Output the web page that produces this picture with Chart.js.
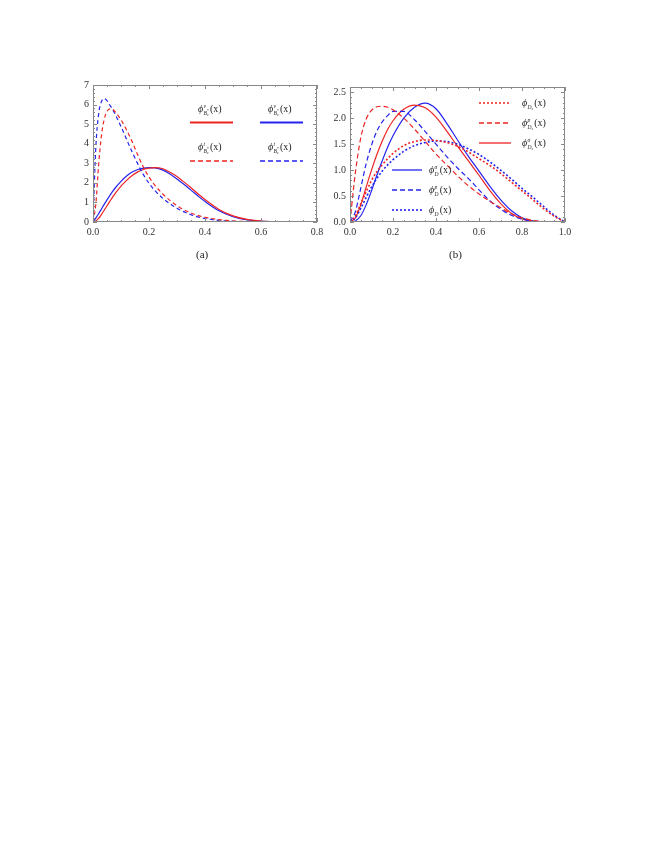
<!DOCTYPE html>
<html>
<head>
<meta charset="utf-8">
<script src="https://cdn.jsdelivr.net/npm/chart.js@4.4.1/dist/chart.umd.min.js"></script>
<style>
body { margin: 0; background: #fff; width: 664px; height: 860px; position: relative; overflow: hidden; }
canvas { position: absolute; }
.cap { position: absolute; font: 11px "Liberation Serif", "DejaVu Serif", serif; color: #222; }
</style>
</head>
<body>
<canvas id="chartA" width="270" height="175" style="left:60px;top:75px"></canvas>
<canvas id="chartB" width="255" height="175" style="left:325px;top:75px"></canvas>
<div class="cap" style="left:196px;top:248px">(a)</div>
<div class="cap" style="left:449px;top:248px">(b)</div>
<script>
// ---- panel (a) data ----
const xA = [0, 0.01, 0.02, 0.03, 0.04, 0.05, 0.06, 0.07, 0.08, 0.1, 0.12, 0.14, 0.16, 0.18, 0.2, 0.22, 0.25, 0.28, 0.3, 0.32, 0.35, 0.38, 0.4, 0.45, 0.5, 0.55, 0.6, 0.65, 0.7, 0.75, 0.8];
const vRedA  = [0, 0.05, 0.18, 0.38, 0.6, 0.83, 1.05, 1.27, 1.47, 1.83, 2.13, 2.38, 2.56, 2.68, 2.75, 2.78, 2.72, 2.5, 2.32, 2.1, 1.75, 1.38, 1.15, 0.64, 0.31, 0.13, 0.05, 0.016, 0.004, 0, 0];
const vBlueA = [0, 0.2, 0.42, 0.66, 0.9, 1.13, 1.35, 1.56, 1.75, 2.08, 2.35, 2.55, 2.68, 2.75, 2.78, 2.77, 2.65, 2.4, 2.2, 1.98, 1.63, 1.27, 1.05, 0.57, 0.27, 0.11, 0.04, 0.012, 0.003, 0, 0];
const tRedA  = [0, 0.9, 2.9, 4.4, 5.25, 5.65, 5.78, 5.76, 5.62, 5.22, 4.7, 4.1, 3.42, 2.8, 2.3, 1.9, 1.42, 1.04, 0.84, 0.66, 0.46, 0.31, 0.24, 0.12, 0.055, 0.022, 0.008, 0.002, 0, 0, 0];
const tBlueA = [0, 3.8, 5.5, 6.15, 6.3, 6.2, 5.98, 5.75, 5.48, 4.88, 4.22, 3.57, 2.97, 2.42, 1.98, 1.62, 1.2, 0.88, 0.7, 0.55, 0.37, 0.24, 0.18, 0.08, 0.03, 0.012, 0.004, 0, 0, 0, 0];
const xTicksA = [0, 0.2, 0.4, 0.6, 0.8];
const yTicksA = [0, 1, 2, 3, 4, 5, 6, 7];

// ---- panel (b) data ----
const xB = [0, 0.025, 0.05, 0.075, 0.1, 0.125, 0.15, 0.175, 0.2, 0.25, 0.3, 0.35, 0.4, 0.45, 0.5, 0.55, 0.6, 0.65, 0.7, 0.75, 0.8, 0.85, 0.9, 0.95, 1];
const pRedB  = [0, 0.95, 1.62, 1.98, 2.15, 2.22, 2.23, 2.21, 2.16, 2.0, 1.79, 1.55, 1.31, 1.1, 0.89, 0.7, 0.54, 0.4, 0.28, 0.16, 0.08, 0.03, 0.01, 0, 0];
const pBlueB = [0, 0.2, 0.65, 1.12, 1.48, 1.75, 1.93, 2.05, 2.13, 2.13, 1.97, 1.74, 1.5, 1.26, 1.04, 0.84, 0.62, 0.41, 0.25, 0.13, 0.055, 0.018, 0.004, 0, 0];
const sRedB  = [0, 0.08, 0.33, 0.67, 1.0, 1.3, 1.56, 1.78, 1.95, 2.17, 2.25, 2.2, 2.02, 1.75, 1.46, 1.18, 0.9, 0.61, 0.36, 0.17, 0.06, 0.015, 0.002, 0, 0];
const sBlueB = [0, 0.02, 0.12, 0.33, 0.6, 0.9, 1.18, 1.44, 1.66, 2.0, 2.21, 2.29, 2.18, 1.9, 1.58, 1.27, 0.98, 0.69, 0.43, 0.22, 0.08, 0.02, 0.003, 0, 0];
const dRedB  = [0, 0.12, 0.35, 0.58, 0.8, 0.97, 1.1, 1.22, 1.32, 1.47, 1.55, 1.58, 1.57, 1.53, 1.46, 1.35, 1.22, 1.09, 0.94, 0.77, 0.6, 0.43, 0.26, 0.11, 0];
const dBlueB = [0, 0.08, 0.26, 0.47, 0.67, 0.84, 0.98, 1.1, 1.2, 1.36, 1.47, 1.53, 1.56, 1.55, 1.5, 1.41, 1.3, 1.16, 1.0, 0.83, 0.65, 0.48, 0.3, 0.13, 0];
const xTicksB = [0, 0.2, 0.4, 0.6, 0.8, 1.0];
const yTicksB = [0, 0.5, 1.0, 1.5, 2.0, 2.5];

const RED = 'rgb(238,36,36)';
const BLUE = 'rgb(36,36,238)';
const SERIF = '"Liberation Serif", "DejaVu Serif", serif';

function pts(xs, ys) {
    return xs.map((x, i) => ({ x: x, y: ys[i] }));
}

function line(data, color, dash, width) {
    return {
        data: data,
        borderColor: color,
        borderWidth: width || 1.2,
        borderDash: dash || [],
        pointRadius: 0,
        fill: false,
        cubicInterpolationMode: 'monotone'
    };
}

// frame with inward ticks on all four sides (Mathematica look)
function makeFrame(xMinor, xEvery, yMinor, yEvery) {
    return {
        id: 'frame',
        afterDatasetsDraw(chart) {
            const { ctx, chartArea: a, scales: { x, y } } = chart;
            ctx.save();
            ctx.strokeStyle = '#888';
            ctx.lineWidth = 1;
            ctx.setLineDash([]);
            ctx.strokeRect(Math.round(a.left) + 0.5, Math.round(a.top) + 0.5,
                Math.round(a.right - a.left) - 1, Math.round(a.bottom - a.top) - 1);
            ctx.beginPath();
            const nx = Math.round((x.max - x.min) / xMinor);
            for (let i = 0; i <= nx; i++) {
                const len = i % xEvery === 0 ? 4 : 2;
                const px = Math.round(x.getPixelForValue(x.min + i * xMinor)) + 0.5;
                ctx.moveTo(px, a.bottom); ctx.lineTo(px, a.bottom - len);
                ctx.moveTo(px, a.top); ctx.lineTo(px, a.top + len);
            }
            const ny = Math.round((y.max - y.min) / yMinor);
            for (let i = 0; i <= ny; i++) {
                const len = i % yEvery === 0 ? 4 : 2;
                const py = Math.round(y.getPixelForValue(y.min + i * yMinor)) + 0.5;
                ctx.moveTo(a.left, py); ctx.lineTo(a.left + len, py);
                ctx.moveTo(a.right, py); ctx.lineTo(a.right - len, py);
            }
            ctx.stroke();
            ctx.restore();
        }
    };
}

// phi label with super/subscripts
function drawPhi(ctx, x, y, lab) {
    ctx.fillStyle = '#222';
    ctx.textBaseline = 'alphabetic';
    ctx.font = 'italic 10px ' + SERIF;
    ctx.fillText('ϕ', x, y);
    let cx = x + ctx.measureText('ϕ').width + 0.3;
    ctx.font = 'italic 5.5px ' + SERIF;
    let supW = 0;
    if (lab.sup) {
        ctx.fillText(lab.sup, cx, y - 4.5);
        supW = ctx.measureText(lab.sup).width;
    }
    ctx.fillText(lab.sub, cx, y + 2.5);
    let subW = ctx.measureText(lab.sub).width;
    ctx.font = 'italic 4px ' + SERIF;
    let extra = 0;
    if (lab.subsub) {
        ctx.fillText(lab.subsub, cx + subW, y + 4);
        extra = ctx.measureText(lab.subsub).width;
    }
    if (lab.subsup) {
        ctx.fillText(lab.subsup, cx + subW, y);
        extra = Math.max(extra, ctx.measureText(lab.subsup).width);
    }
    subW += extra;
    ctx.font = '10px ' + SERIF;
    ctx.fillText('(x)', cx + Math.max(supW, subW) + 1.2, y);
}

// legend drawn inside the plot, items kept out of chart options
function makeLegend(items) {
    return {
        id: 'phiLegend',
        afterDraw(chart) {
            const ctx = chart.ctx;
            items.forEach(it => {
                ctx.save();
                ctx.beginPath();
                ctx.strokeStyle = it.color;
                ctx.lineWidth = it.width || 1.3;
                ctx.lineCap = 'butt';
                ctx.setLineDash(it.dash ? it.dash.slice() : []);
                ctx.moveTo(it.x1, it.ly);
                ctx.lineTo(it.x2, it.ly);
                ctx.stroke();
                ctx.restore();
                ctx.save();
                drawPhi(ctx, it.tx, it.ty, it.label);
                ctx.restore();
            });
        }
    };
}

function axisOpts(min, max, ticks, fmt, fixed, isY) {
    return {
        type: 'linear',
        min: min,
        max: max,
        grid: { display: false, drawTicks: false },
        border: { display: false },
        afterBuildTicks: s => { s.ticks = ticks.map(v => ({ value: v })); },
        afterFit: s => { if (isY) s.width = fixed; else s.height = fixed; },
        ticks: {
            padding: 4,
            color: '#333',
            font: { family: SERIF, size: 10 },
            callback: v => fmt(v)
        }
    };
}

// ---- panel (a) ----
const dashA = [4, 3];
const legendA = [
    { color: RED, x1: 130, x2: 173, ly: 47.5, tx: 138, ty: 37, width: 1.8, label: { sup: 'v', sub: 'B', subsub: 'c', subsup: '*' } },
    { color: BLUE, x1: 200, x2: 243, ly: 47.5, tx: 208, ty: 37, width: 1.8, label: { sup: 'v', sub: 'B', subsub: 'c', subsup: '*' } },
    { color: RED, dash: [5, 3], x1: 130, x2: 173, ly: 86, tx: 138, ty: 75, label: { sup: 't', sub: 'B', subsub: 'c', subsup: '*' } },
    { color: BLUE, dash: [5, 3], x1: 200, x2: 243, ly: 86, tx: 208, ty: 75, label: { sup: 't', sub: 'B', subsub: 'c', subsup: '*' } }
];
new Chart(document.getElementById('chartA'), {
    type: 'line',
    data: {
        datasets: [
            line(pts(xA, tRedA), RED, dashA),
            line(pts(xA, tBlueA), BLUE, dashA),
            line(pts(xA, vRedA), RED),
            line(pts(xA, vBlueA), BLUE)
        ]
    },
    options: {
        responsive: false,
        animation: false,
        layout: { padding: { top: 8, right: 13, left: 0, bottom: 0 } },
        scales: {
            x: axisOpts(0, 0.8, xTicksA, v => v.toFixed(1), 28, false),
            y: axisOpts(0, 7, yTicksA, v => String(v), 33, true)
        },
        plugins: {
            legend: { display: false },
            tooltip: { enabled: false }
        }
    },
    plugins: [makeFrame(0.05, 4, 0.2, 5), makeLegend(legendA)]
});

// ---- panel (b) ----
const dashB = [5, 3];
const dotB = [2, 2];
const legendB = [
    { color: RED, dash: dotB, width: 1.6, x1: 154, x2: 186, ly: 28, tx: 197, ty: 31, label: { sub: 'D', subsub: 's' } },
    { color: RED, dash: dashB, x1: 154, x2: 186, ly: 48, tx: 197, ty: 51, label: { sup: 'p', sub: 'D', subsub: 's' } },
    { color: RED, x1: 154, x2: 186, ly: 68, tx: 197, ty: 71, label: { sup: 'σ', sub: 'D', subsub: 's' } },
    { color: BLUE, x1: 67, x2: 97, ly: 95, tx: 104, ty: 98, label: { sup: 'σ', sub: 'D' } },
    { color: BLUE, dash: dashB, x1: 67, x2: 97, ly: 115, tx: 104, ty: 118, label: { sup: 'p', sub: 'D' } },
    { color: BLUE, dash: dotB, width: 1.6, x1: 67, x2: 97, ly: 135, tx: 104, ty: 138, label: { sub: 'D' } }
];
new Chart(document.getElementById('chartB'), {
    type: 'line',
    data: {
        datasets: [
            line(pts(xB, dRedB), RED, dotB, 1.6),
            line(pts(xB, dBlueB), BLUE, dotB, 1.6),
            line(pts(xB, pRedB), RED, dashB),
            line(pts(xB, pBlueB), BLUE, dashB),
            line(pts(xB, sRedB), RED),
            line(pts(xB, sBlueB), BLUE)
        ]
    },
    options: {
        responsive: false,
        animation: false,
        layout: { padding: { top: 12, right: 15, left: 0, bottom: 0 } },
        scales: {
            x: axisOpts(0, 1, xTicksB, v => v.toFixed(1), 28, false),
            y: axisOpts(0, 2.6, yTicksB, v => v.toFixed(1), 25, true)
        },
        plugins: {
            legend: { display: false },
            tooltip: { enabled: false }
        }
    },
    plugins: [makeFrame(0.05, 4, 0.1, 5), makeLegend(legendB)]
});
</script>
</body>
</html>
